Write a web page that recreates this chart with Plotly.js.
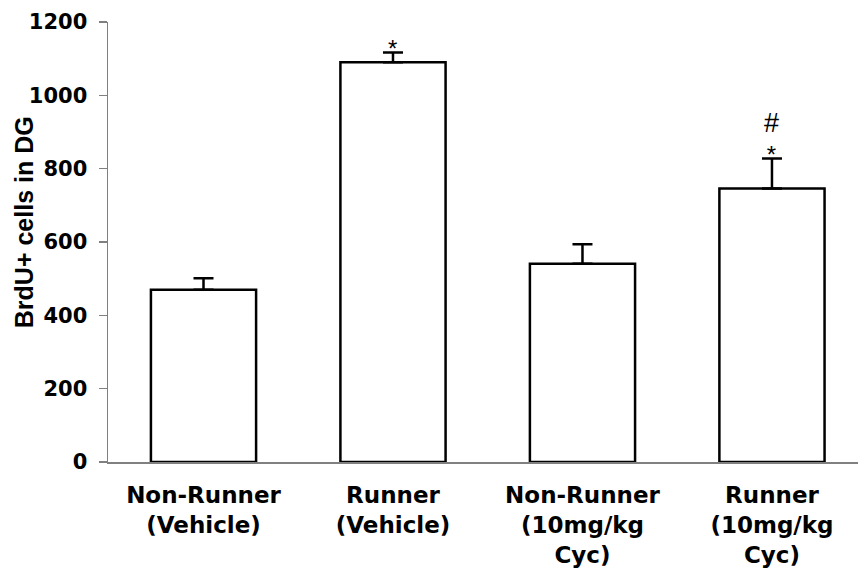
<!DOCTYPE html>
<html>
<head>
<meta charset="utf-8">
<script src="https://cdn.plot.ly/plotly-3.0.1.min.js"></script>
<style>
  html, body { margin: 0; padding: 0; background: #fff; }
  #chart { width: 858px; height: 571px; }
</style>
</head>
<body>
<div id="chart"></div>
<script>
// BrdU+ cell counts in the dentate gyrus, mean + SEM per group
const groups = [
  'Non-Runner<br>(Vehicle)',
  'Runner<br>(Vehicle)',
  'Non-Runner<br>(10mg/kg<br>Cyc)',
  'Runner<br>(10mg/kg<br>Cyc)'
];
const cellCounts = [470, 1090, 541, 746];
const sem = [31, 27, 53, 82];
const significance = ['', '*', '', '<span style="font-size:27px">#</span><br>*'];
const yTicks = [0, 200, 400, 600, 800, 1000, 1200];

const tickFont = { family: 'DejaVu Sans', size: 21, color: '#000' };
const catFont = { family: 'DejaVu Sans', size: 23, color: '#000' };

const trace = {
  type: 'bar',
  x: [0, 1, 2, 3],
  y: cellCounts,
  width: 0.555,
  marker: { color: '#ffffff', line: { color: '#000000', width: 2.5 } },
  error_y: {
    type: 'data',
    symmetric: false,
    array: sem,
    arrayminus: sem.map(() => 0),
    color: '#000000',
    thickness: 2.5,
    width: 10
  },
  hoverinfo: 'none'
};

// significance markers sit just above each error bar
const marks = [];
significance.forEach((s, i) => {
  if (!s) return;
  marks.push({
    x: i, y: cellCounts[i] + sem[i],
    xref: 'x', yref: 'y',
    text: s,
    showarrow: false,
    yanchor: 'bottom',
    yshift: -12,
    font: { family: 'Liberation Sans', size: 24, color: '#000' },
    align: 'center'
  });
});

marks.push({
  text: '<b>BrdU+ cells in DG</b>',
  xref: 'paper', yref: 'paper',
  x: -0.112, y: 0.545,
  xanchor: 'center', yanchor: 'middle',
  textangle: -90,
  showarrow: false,
  font: { family: 'Liberation Sans', size: 25, color: '#000' }
});

const layout = {
  width: 858,
  height: 571,
  margin: { l: 108, r: 0, t: 22, b: 108.5 },
  paper_bgcolor: '#ffffff',
  plot_bgcolor: '#ffffff',
  showlegend: false,
  xaxis: {
    range: [-0.504, 3.454],
    tickvals: [0, 1, 2, 3],
    ticktext: groups.map(g => '<b>' + g + '</b>'),
    tickfont: catFont,
    ticks: '',
    showgrid: false,
    zeroline: false,
    showline: true,
    linecolor: '#808080',
    linewidth: 1.5,
    ticklabelstandoff: 12
  },
  yaxis: {
    range: [0, 1200],
    tickvals: yTicks,
    ticktext: yTicks.map(v => '<b>' + v + '</b>'),
    tickfont: tickFont,
    ticks: 'outside',
    ticklen: 8,
    tickcolor: '#808080',
    tickwidth: 1.5,
    showgrid: false,
    zeroline: false,
    showline: true,
    linecolor: '#808080',
    linewidth: 1.5,
    ticklabelstandoff: 7
  },
  annotations: marks
};

Plotly.newPlot('chart', [trace], layout, { displayModeBar: false, staticPlot: true });
</script>
</body>
</html>
